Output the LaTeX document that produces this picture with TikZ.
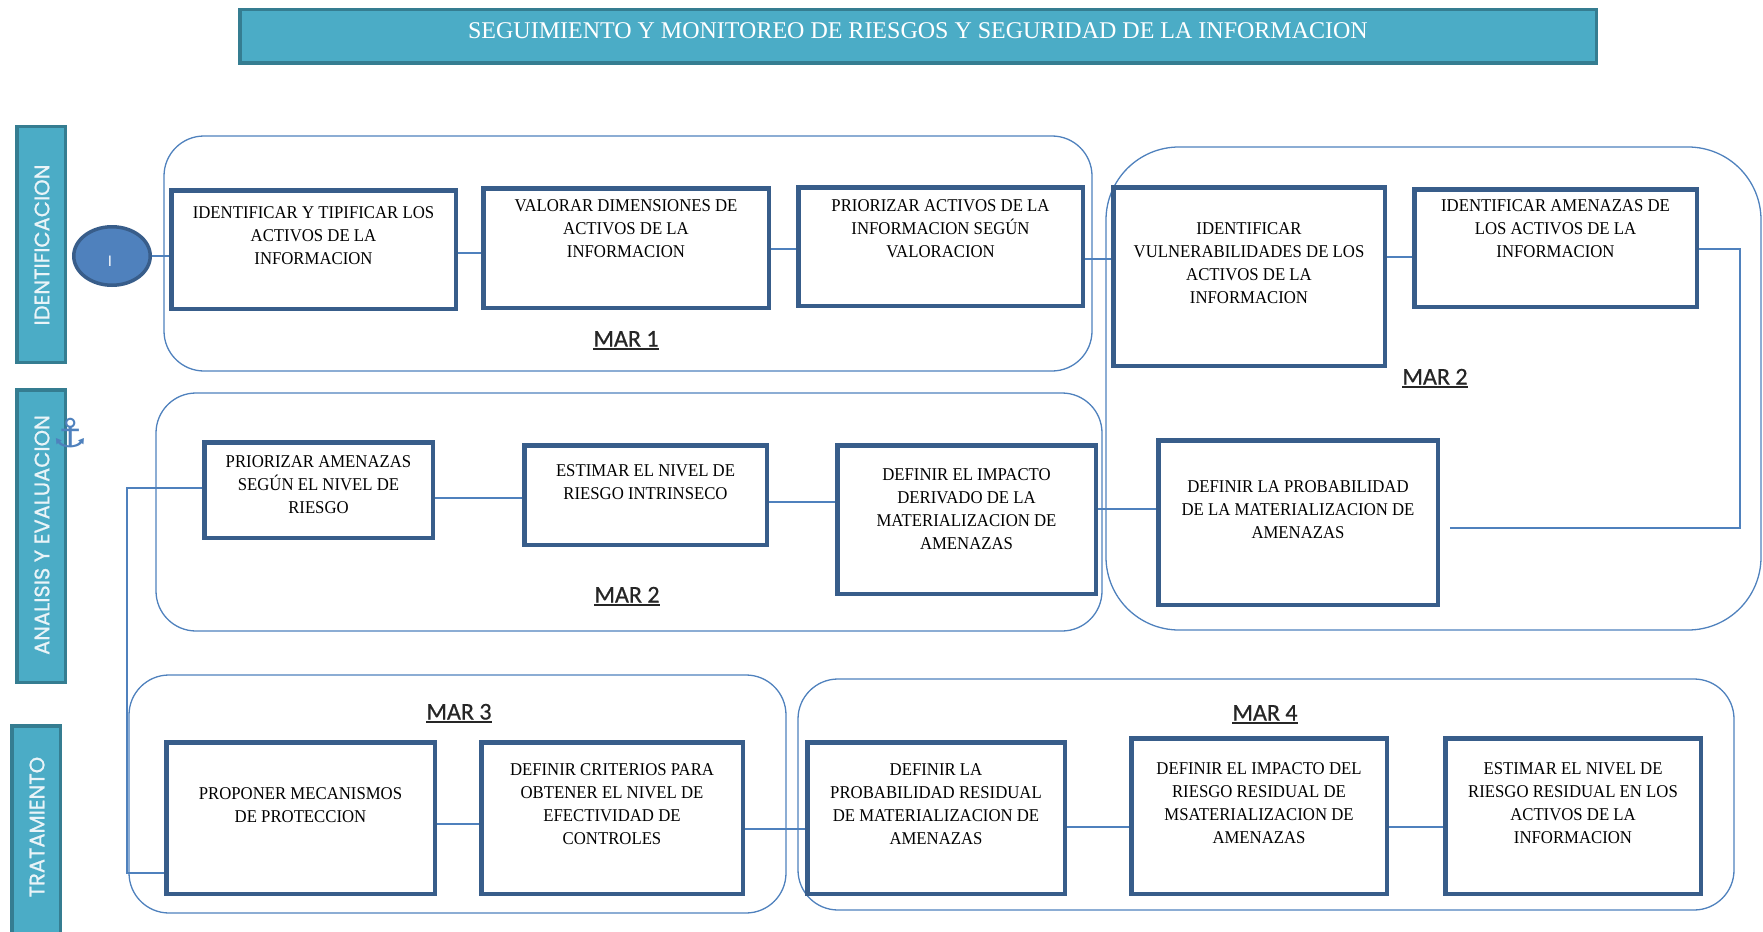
\documentclass[tikz,border=0pt]{standalone}
\usepackage{fontspec}
\setmainfont{Liberation Serif}
\newfontfamily\boxfont[FakeStretch=0.93]{Liberation Serif}
\newfontfamily\titlefont{Liberation Serif}
\newfontfamily\sidefont[FakeBold=0.8]{Poppins}
\newfontfamily\circfont{Poppins}
\newfontfamily\marfont[FakeBold=0.7]{Carlito}
\newfontfamily\symfont{DejaVu Sans}
\usetikzlibrary{shapes.geometric}
\definecolor{tealfill}{HTML}{4BACC6}
\definecolor{tealborder}{HTML}{357D91}
\definecolor{boxborder}{HTML}{385D8A}
\definecolor{grpblue}{HTML}{4F81BD}
\definecolor{circfill}{HTML}{4F81BD}
\definecolor{martext}{HTML}{262626}
\definecolor{sidetxt}{HTML}{EAF4F8}
\begin{document}
\begin{tikzpicture}[x=1pt,y=-1pt,
  tealbar/.style={draw=tealborder, fill=tealfill, line width=3.5pt, inner sep=0pt},
  procbox/.style={draw=boxborder, fill=white, line width=4.5pt, inner sep=0pt},
  boxtext/.style={font=\boxfont\fontsize{18}{23}\selectfont, align=center, inner sep=0pt},
  grp/.style={draw=grpblue, line width=1.3pt},
  conn/.style={draw=grpblue, line width=1.8pt},
  marlabel/.style={font=\marfont\fontsize{24}{24}\selectfont, text=martext, inner sep=0pt, anchor=base},
  ul/.style={draw=martext, line width=1.6pt},
  sidetext/.style={font=\sidefont\fontsize{21}{21}\selectfont, text=sidetxt, rotate=90, inner sep=0pt}]
\useasboundingbox (0,0) rectangle (1763,931);

% title
\node[tealbar, minimum width=1356.5pt, minimum height=53.5pt] (title) at (918,36.5) {};
\node[font=\titlefont\fontsize{24}{24}\selectfont, text=white, inner sep=0pt] (titletext) at (918,31) {SEGUIMIENTO Y MONITOREO DE RIESGOS Y SEGURIDAD DE LA INFORMACION};

% side bars
\node[tealbar, minimum width=48.5pt, minimum height=235.5pt] (sideA) at (41,244.5) {};
\node[sidetext] (sideAtext) at (42,245) {IDENTIFICACION};
\node[tealbar, minimum width=48.5pt, minimum height=292.5pt] (sideB) at (41,536) {};
\node[sidetext] (sideBtext) at (42,535) {ANALISIS Y EVALUACION};
\node[tealbar, minimum width=48.5pt, minimum height=209.5pt] (sideC) at (36,830.5) {};
\node[sidetext] (sideCtext) at (37,827) {TRATAMIENTO};

% groups
\draw[grp, rounded corners=40pt] (164,136) rectangle (1092,371);
\draw[grp, rounded corners=73pt] (1106,147) rectangle (1761,630);
\draw[grp, rounded corners=40pt] (156,393) rectangle (1102,631);
\draw[grp, rounded corners=40pt] (129,675) rectangle (786,913);
\draw[grp, rounded corners=40pt] (798,679) rectangle (1734,910);

% start circle and anchor
\node[ellipse, draw=boxborder, fill=circfill, line width=3.5pt, minimum width=76.5pt, minimum height=58.5pt, inner sep=0pt] (circ) at (112,256) {};
\node[font=\circfont\fontsize{15}{15}\selectfont, text=white, inner sep=0pt] (circtext) at (110,261) {I};
\node[font=\symfont\fontsize{40}{40}\selectfont, text=grpblue, inner sep=0pt] (anchorsym) at (70,433) {⚓};

% boxes
\node[procbox, minimum width=284.5pt, minimum height=118.5pt] (b1) at (313.5,249.5) {};
\node[procbox, minimum width=285.5pt, minimum height=119.5pt] (b2) at (626,248) {};
\node[procbox, minimum width=284.5pt, minimum height=118.5pt] (b3) at (940.5,246.5) {};
\node[procbox, minimum width=271.5pt, minimum height=178.5pt] (b4) at (1249,276.5) {};
\node[procbox, minimum width=282.5pt, minimum height=117.5pt] (b5) at (1555.5,248) {};
\node[procbox, minimum width=258.5pt, minimum height=148.5pt] (b6) at (966.5,519.5) {};
\node[procbox, minimum width=279.5pt, minimum height=164.5pt] (b7) at (1298,522.5) {};
\node[procbox, minimum width=228.5pt, minimum height=95.5pt] (b8) at (318.5,490) {};
\node[procbox, minimum width=242.5pt, minimum height=99.5pt] (b9) at (645.5,495) {};
\node[procbox, minimum width=268.5pt, minimum height=151.5pt] (b10) at (300.5,818) {};
\node[procbox, minimum width=261.5pt, minimum height=151.5pt] (b11) at (612,818) {};
\node[procbox, minimum width=257.5pt, minimum height=151.5pt] (b12) at (936,818) {};
\node[procbox, minimum width=255.5pt, minimum height=155.5pt] (b13) at (1259,816) {};
\node[procbox, minimum width=255.5pt, minimum height=155.5pt] (b14) at (1573,816) {};

% box texts
\node[boxtext] (t1) at (313.5,236) {IDENTIFICAR Y TIPIFICAR LOS\\ACTIVOS DE LA\\INFORMACION};
\node[boxtext] (t2) at (626,229) {VALORAR DIMENSIONES DE\\ACTIVOS DE LA\\INFORMACION};
\node[boxtext] (t3) at (940.5,229) {PRIORIZAR ACTIVOS DE LA\\INFORMACION SEGÚN\\VALORACION};
\node[boxtext] (t4) at (1249,263) {IDENTIFICAR\\VULNERABILIDADES DE LOS\\ACTIVOS DE LA\\INFORMACION};
\node[boxtext] (t5) at (1555.5,229) {IDENTIFICAR AMENAZAS DE\\LOS ACTIVOS DE LA\\INFORMACION};
\node[boxtext] (t6) at (966.5,509) {DEFINIR EL IMPACTO\\DERIVADO DE LA\\MATERIALIZACION DE\\AMENAZAS};
\node[boxtext] (t7) at (1298,510) {DEFINIR LA PROBABILIDAD\\DE LA MATERIALIZACION DE\\AMENAZAS};
\node[boxtext] (t8) at (318.5,485) {PRIORIZAR AMENAZAS\\SEGÚN EL NIVEL DE\\RIESGO};
\node[boxtext] (t9) at (645.5,482.5) {ESTIMAR EL NIVEL DE\\RIESGO INTRINSECO};
\node[boxtext] (t10) at (300.5,805) {PROPONER MECANISMOS\\DE PROTECCION};
\node[boxtext] (t11) at (612,804) {DEFINIR CRITERIOS PARA\\OBTENER EL NIVEL DE\\EFECTIVIDAD DE\\CONTROLES};
\node[boxtext] (t12) at (936,804) {DEFINIR LA\\PROBABILIDAD RESIDUAL\\DE MATERIALIZACION DE\\AMENAZAS};
\node[boxtext] (t13) at (1259,803) {DEFINIR EL IMPACTO DEL\\RIESGO RESIDUAL DE\\MSATERIALIZACION DE\\AMENAZAS};
\node[boxtext] (t14) at (1573,803) {ESTIMAR EL NIVEL DE\\RIESGO RESIDUAL EN LOS\\ACTIVOS DE LA\\INFORMACION};

% group labels
\node[marlabel] (m1) at (626,346.5) {MAR 1};
\node[marlabel] (m2a) at (1435,384.5) {MAR 2};
\node[marlabel] (m2b) at (627,602.5) {MAR 2};
\node[marlabel] (m3) at (459,719.5) {MAR 3};
\node[marlabel] (m4) at (1265,720.5) {MAR 4};
\foreach \m in {m1,m2a,m2b,m3,m4}
  \draw[ul] ([yshift=-2.5pt]\m.base west) -- ([yshift=-2.5pt]\m.base east);

% connectors
\coordinate (e7) at (1450,528);
\draw[conn] (circ.east) -- (circ.east -| b1.west);
\draw[conn] (b1.east |- 0,253) -- (b2.west |- 0,253);
\draw[conn] (b2.east |- 0,249) -- (b3.west |- 0,249);
\draw[conn] (b3.east |- 0,259) -- (b4.west |- 0,259);
\draw[conn] (b4.east |- 0,257) -- (b5.west |- 0,257);
\draw[conn] (b5.east |- 0,249) -| (1740,528) -- (e7);
\draw[conn] (b8.east |- 0,498) -- (b9.west |- 0,498);
\draw[conn] (b9.east |- 0,502) -- (b6.west |- 0,502);
\draw[conn] (b6.east |- 0,509) -- (b7.west |- 0,509);
\draw[conn] (b8.west |- 0,488) -| (127,873) -- (b10.west |- 0,873);
\draw[conn] (b10.east |- 0,824) -- (b11.west |- 0,824);
\draw[conn] (b11.east |- 0,829) -- (b12.west |- 0,829);
\draw[conn] (b12.east |- 0,827) -- (b13.west |- 0,827);
\draw[conn] (b13.east |- 0,827) -- (b14.west |- 0,827);
\end{tikzpicture}
\end{document}
